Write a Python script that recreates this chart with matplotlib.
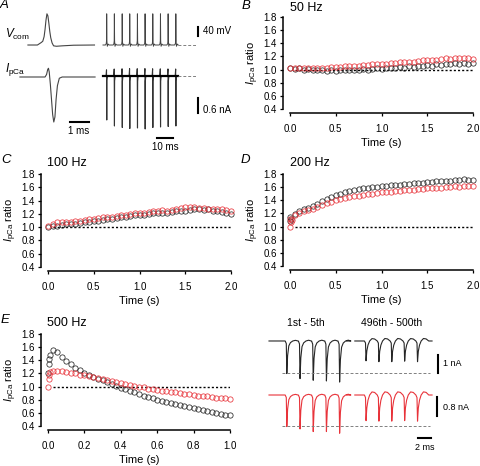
import numpy as np
import matplotlib
matplotlib.use("Agg")
import matplotlib.pyplot as plt

plt.rcParams["font.family"] = ["Liberation Sans", "DejaVu Sans"]
plt.rcParams["mathtext.fontset"] = "custom"
plt.rcParams["mathtext.rm"] = "Liberation Sans"
plt.rcParams["mathtext.it"] = "Liberation Sans:italic"

W, H = 480, 466

BLACK = "#262626"
RED = "#e8333a"

# ---- panel A: single AP command and evoked presynaptic Ca current ----
ap_t = [0, 0.5, 0.6, 0.7, 0.78, 0.85, 0.9, 0.95, 1.0, 1.05, 1.1, 1.15, 1.2, 1.27, 1.35, 1.5, 1.8, 2.4, 3.5]
ap_v = [-80, -80, -74, -68, -62, -40, -5, 40, 70, 60, 25, -15, -45, -70, -84, -86, -84, -81, -80]
ica_t = [-0.42, 0.9, 0.98, 1.04, 1.08, 1.12, 1.18, 1.24, 1.3, 1.36, 1.42, 1.48, 1.55, 1.65, 1.8, 3.53]
ica_i = [0, 0, 0.1, 0.3, 0.35, 0.2, -0.3, -0.9, -1.5, -1.8, -1.6, -0.9, -0.35, -0.05, 0, 0]

# train of APs (200 Hz) and currents
train_spike_t = [2.3, 7.1, 12.0, 16.7, 21.5, 26.3, 31.1, 35.9, 40.7, 45.5]
train_ap_amp = [150] * 10
train_ica_amp = [-1.76, -2.0, -2.06, -2.1, -2.08, -2.12, -2.06, -2.04, -2.02, -2.0]
ap_shape_dt = [-0.8, -0.3, -0.1, 0.0, 0.15, 0.4, 0.9, 1.5]
ap_shape_frac = [0, 0.04, 0.13, 1.0, 0.13, -0.04, 0.03, 0]
ica_shape_dt = [-0.4, -0.1, 0.05, 0.15, 0.4, 0.8]
ica_shape_frac = [0, -0.14, 1.0, 0.1, 0.02, 0]

# ---- ratio time courses ----
t_2s = np.linspace(0, 2, 41)

b_black = [1.03, 1.01, 1.02, 1.00, 1.01, 0.99, 0.99, 1.00, 0.98, 0.99, 0.98, 0.99, 0.99, 1.00, 0.99, 1.00,
           1.01, 1.00, 1.01, 1.02, 1.01, 1.02, 1.03, 1.02, 1.04, 1.03, 1.05, 1.04, 1.06, 1.05, 1.07, 1.06,
           1.08, 1.07, 1.09, 1.08, 1.10, 1.09, 1.10, 1.09, 1.10]
b_red = [1.03, 1.03, 1.02, 1.03, 1.02, 1.02, 1.03, 1.02, 1.03, 1.04, 1.04, 1.04, 1.05, 1.05, 1.06, 1.06,
         1.07, 1.07, 1.08, 1.08, 1.09, 1.09, 1.10, 1.10, 1.11, 1.11, 1.12, 1.12, 1.13, 1.14, 1.14, 1.15,
         1.15, 1.16, 1.17, 1.16, 1.17, 1.18, 1.17, 1.17, 1.16]

c_black = [1.00, 1.01, 1.02, 1.03, 1.04, 1.04, 1.05, 1.06, 1.07, 1.08, 1.09, 1.10, 1.11, 1.12, 1.13, 1.14,
           1.15, 1.16, 1.17, 1.18, 1.19, 1.19, 1.20, 1.21, 1.21, 1.22, 1.21, 1.23, 1.24, 1.25, 1.25, 1.26,
           1.27, 1.27, 1.26, 1.27, 1.25, 1.25, 1.23, 1.22, 1.20]
c_red = [1.02, 1.05, 1.07, 1.07, 1.08, 1.08, 1.09, 1.10, 1.11, 1.12, 1.13, 1.14, 1.15, 1.15, 1.16, 1.17,
         1.18, 1.19, 1.20, 1.21, 1.22, 1.22, 1.23, 1.24, 1.25, 1.26, 1.25, 1.26, 1.28, 1.29, 1.30, 1.30,
         1.30, 1.29, 1.29, 1.28, 1.28, 1.27, 1.27, 1.26, 1.25]

d_black = [1.14, 1.19, 1.23, 1.26, 1.29, 1.32, 1.35, 1.39, 1.42, 1.45, 1.48, 1.50, 1.52, 1.54, 1.55, 1.57,
           1.58, 1.59, 1.60, 1.60, 1.61, 1.62, 1.63, 1.63, 1.64, 1.65, 1.65, 1.66, 1.67, 1.67, 1.68, 1.68,
           1.69, 1.69, 1.70, 1.70, 1.71, 1.71, 1.72, 1.71, 1.71]
d_red = [1.12, 1.17, 1.21, 1.23, 1.25, 1.27, 1.30, 1.33, 1.36, 1.38, 1.40, 1.42, 1.43, 1.45, 1.46, 1.47,
         1.48, 1.49, 1.50, 1.51, 1.52, 1.52, 1.53, 1.54, 1.54, 1.55, 1.55, 1.56, 1.57, 1.57, 1.58, 1.58,
         1.59, 1.59, 1.60, 1.60, 1.61, 1.60, 1.61, 1.61, 1.61]
d_onset_t_red = [0.0, 0.01, 0.02]
d_onset_red = [1.00, 1.07, 1.10]
d_onset_t_black = [0.005, 0.015]
d_onset_black = [1.08, 1.12]

t_1s = np.linspace(0.025, 1.0, 40)
e_onset_t = [0.0, 0.004, 0.008, 0.012]
e_onset_black = [1.20, 1.35, 1.42, 1.48]
e_onset_red = [1.00, 1.12, 1.18, 1.22]
e_black = [1.56, 1.52, 1.45, 1.39, 1.34, 1.29, 1.25, 1.20, 1.17, 1.15, 1.12, 1.10, 1.07, 1.04, 1.01, 0.98,
           0.96, 0.93, 0.91, 0.88, 0.86, 0.84, 0.82, 0.80, 0.78, 0.77, 0.75, 0.73, 0.72, 0.70, 0.69, 0.67,
           0.66, 0.64, 0.63, 0.61, 0.60, 0.58, 0.57, 0.56]
e_red = [1.24, 1.24, 1.23, 1.22, 1.21, 1.20, 1.18, 1.17, 1.16, 1.14, 1.13, 1.11, 1.10, 1.08, 1.07, 1.05,
         1.04, 1.03, 1.01, 1.00, 0.99, 0.97, 0.96, 0.95, 0.94, 0.93, 0.92, 0.91, 0.90, 0.89, 0.88, 0.87,
         0.86, 0.86, 0.85, 0.84, 0.83, 0.82, 0.82, 0.81]

# ---- panel E insets: 1st-5th and 496th-500th currents at 500 Hz ----
early_spike_t = [2.7, 4.7, 6.7, 8.7, 10.7]
late_spike_t = [14.7, 16.65, 18.6, 20.55, 22.5]
black_early_amp = [-1.81, -2.09, -2.18, -2.22, -2.28]
black_late_amp = [-1.10, -1.15, -1.15, -1.12, -1.15]
red_early_amp = [-1.33, -1.43, -1.54, -1.54, -1.61]
red_late_amp = [-1.08, -1.10, -1.10, -1.08, -1.10]
epsc_dt = [-0.25, -0.08, 0.0, 0.12, 0.3, 0.55, 0.9, 1.3, 1.7]
early_frac = [0, 0.08, 1.0, 0.45, 0.15, 0.05, 0.0, -0.02, 0.0]
late_frac = [0, 0.1, 1.0, 0.5, 0.2, 0.0, -0.12, -0.1, 0.0]


def fx(px):
    return px / W


def fy(py):
    return 1 - py / H


def px_axes(fig, x0, y0, x1, y1):
    return fig.add_axes([x0 / W, 1 - y1 / H, (x1 - x0) / W, (y1 - y0) / H])


def build_train(start, end, spike_t, amps, shape_dt, shape_frac, base=0.0):
    t = [start]
    v = [base]
    for ts, a in zip(spike_t, amps):
        for dt, f in zip(shape_dt, shape_frac):
            t.append(ts + dt)
            v.append(base + f * a)
    t.append(end)
    v.append(base)
    return t, v


def trace_axes(fig, rect, xlim, ylim):
    ax = px_axes(fig, *rect)
    ax.set_xlim(*xlim)
    ax.set_ylim(*ylim)
    ax.axis("off")
    return ax


def ratio_axes(fig, rect, xmax, xticks, title, title_xy):
    ax = px_axes(fig, *rect)
    ax.set_xlim(0, xmax)
    ax.set_ylim(0.4, 1.8)
    ax.set_yticks(np.arange(0.4, 1.81, 0.2))
    ax.set_yticklabels([f"{v:.1f}" for v in np.arange(0.4, 1.81, 0.2)])
    ax.set_xticks(xticks)
    ax.set_xticklabels([f"{v:.1f}" for v in xticks])
    for side in ["top", "right"]:
        ax.spines[side].set_visible(False)
    ax.spines["left"].set_position(("outward", 5))
    ax.spines["bottom"].set_position(("outward", 3))
    ax.spines["left"].set_linewidth(1.1)
    ax.spines["bottom"].set_linewidth(1.1)
    ax.tick_params(length=2.5, width=0.9, labelsize=7, pad=2)
    ax.tick_params(axis="x", pad=5)
    ax.set_xlabel("Time (s)", fontsize=8, labelpad=3)
    ax.set_ylabel(r"$\mathit{I}_{\mathrm{pCa}}$ ratio", fontsize=8, labelpad=2)
    ax.plot([0.025 * xmax, xmax], [1.0, 1.0], color="black", lw=1.0,
            linestyle=(0, (1.5, 1.5)), zorder=1)
    fig.text(fx(title_xy[0]), fy(title_xy[1]), title, fontsize=9, va="center", ha="left")
    return ax


def scatter(ax, t, v, color):
    ax.plot(t, v, "o", mfc="none", mec=color, ms=3.8, mew=0.55, clip_on=False, zorder=3)


fig = plt.figure(figsize=(W / 100, H / 100), dpi=100)

# ---------------- panel A ----------------
ax_v1 = trace_axes(fig, (15, 8, 100, 50), (-0.68, 3.79), (-104, 98))
ax_v1.plot(ap_t, ap_v, color="#444444", lw=0.8)
ax_i1 = trace_axes(fig, (15, 60, 100, 130), (-0.68, 3.79), (-2.12, 0.68))
ax_i1.plot(ica_t, ica_i, color="#444444", lw=0.8)
ax_i1.plot([2.21, 3.21], [-1.8, -1.8], color="black", lw=1.5)

t_v, v_v = build_train(0, 47, train_spike_t, train_ap_amp, ap_shape_dt, ap_shape_frac, base=-80)
ax_v2 = trace_axes(fig, (100, 8, 240, 50), (-1.875, 85.6), (-104, 98))
ax_v2.plot(t_v, v_v, color="#444444", lw=0.7)
ax_v2.plot([47, 58], [-80, -80], color="grey", lw=0.7, linestyle=(0, (3, 2)))
ax_v2.plot([59.4, 59.4], [-35, 5], color="black", lw=1.5)

t_i, v_i = build_train(0, 47, train_spike_t, train_ica_amp, ica_shape_dt, ica_shape_frac)
ax_i2 = trace_axes(fig, (100, 60, 240, 145), (-1.875, 85.6), (-2.76, 0.64))
ax_i2.plot(t_i, v_i, color="#333333", lw=0.8)
ax_i2.plot([0, 47], [0, 0], color="black", lw=1.6)
ax_i2.plot([47, 58], [0, 0], color="grey", lw=0.7, linestyle=(0, (3, 2)))
ax_i2.plot([59.4, 59.4], [-0.9, -1.5], color="black", lw=1.5)
ax_i2.plot([33.75, 43.75], [-2.48, -2.48], color="black", lw=1.5)

fig.text(fx(5), fy(34), r"$\mathit{V}_{\mathrm{com}}$", fontsize=8.5, va="center")
fig.text(fx(5), fy(70), r"$\mathit{I}_{\mathrm{pCa}}$", fontsize=8.5, va="center")
fig.text(fx(203), fy(31), "40 mV", fontsize=7, va="center")
fig.text(fx(203), fy(110), "0.6 nA", fontsize=7, va="center")
fig.text(fx(79), fy(131), "1 ms", fontsize=7, va="center", ha="center")
fig.text(fx(165), fy(147), "10 ms", fontsize=7, va="center", ha="center")

# ---------------- panels B-E ----------------
xt_2s = [0.0, 0.5, 1.0, 1.5, 2.0]
ax_b = ratio_axes(fig, (290, 17, 473, 109), 2.0, xt_2s, "50 Hz", (290, 8))
scatter(ax_b, t_2s, b_black, BLACK)
scatter(ax_b, t_2s, b_red, RED)

ax_c = ratio_axes(fig, (48, 174, 231, 267), 2.0, xt_2s, "100 Hz", (47, 163))
scatter(ax_c, t_2s, c_black, BLACK)
scatter(ax_c, t_2s, c_red, RED)

ax_d = ratio_axes(fig, (290, 174, 473, 266), 2.0, xt_2s, "200 Hz", (290, 163))
scatter(ax_d, t_2s, d_black, BLACK)
scatter(ax_d, d_onset_t_black, d_onset_black, BLACK)
scatter(ax_d, t_2s, d_red, RED)
scatter(ax_d, d_onset_t_red, d_onset_red, RED)

ax_e = ratio_axes(fig, (48, 334, 230, 426), 1.0, [0.0, 0.2, 0.4, 0.6, 0.8, 1.0], "500 Hz", (47, 323))
scatter(ax_e, e_onset_t, e_onset_black, BLACK)
scatter(ax_e, t_1s, e_black, BLACK)
scatter(ax_e, e_onset_t, e_onset_red, RED)
scatter(ax_e, t_1s, e_red, RED)

# ---------------- panel E insets ----------------
ax_eb = trace_axes(fig, (262, 330, 450, 388), (-1.06, 27.42), (-2.61, 0.61))
t1, v1 = build_train(0, 11.8, early_spike_t, black_early_amp, epsc_dt, early_frac)
t2, v2 = build_train(13.0, 24.7, late_spike_t, black_late_amp, epsc_dt, late_frac)
ax_eb.plot(t1, v1, color=BLACK, lw=0.8)
ax_eb.plot(t2, v2, color=BLACK, lw=0.8)
ax_eb.plot([2.0, 24.4], [-1.78, -1.78], color="grey", lw=0.7, linestyle=(0, (3, 2)))
ax_eb.plot([25.6, 25.6], [-0.78, -1.78], color="black", lw=1.5)

ax_er = trace_axes(fig, (262, 386, 450, 445), (-1.06, 27.42), (-2.105, 0.379))
t3, v3 = build_train(0, 11.8, early_spike_t, red_early_amp, epsc_dt, early_frac)
t4, v4 = build_train(13.0, 24.7, late_spike_t, red_late_amp, epsc_dt, late_frac)
ax_er.plot(t3, v3, color=RED, lw=0.8)
ax_er.plot(t4, v4, color=RED, lw=0.8)
ax_er.plot([2.0, 24.4], [-1.31, -1.31], color="grey", lw=0.7, linestyle=(0, (3, 2)))
ax_er.plot([25.45, 25.45], [-0.08, -0.88], color="black", lw=1.5)
ax_er.plot([22.6, 24.6], [-1.81, -1.81], color="black", lw=1.5, clip_on=False)

fig.text(fx(306), fy(323), "1st - 5th", fontsize=7.5, va="center", ha="center")
fig.text(fx(392), fy(323), "496th - 500th", fontsize=7.5, va="center", ha="center")
fig.text(fx(443), fy(364), "1 nA", fontsize=6.5, va="center")
fig.text(fx(443), fy(407), "0.8 nA", fontsize=6.5, va="center")
fig.text(fx(425), fy(447), "2 ms", fontsize=6.5, va="center", ha="center")

# panel letters
for letter, x, y in [("A", 0, 5), ("B", 242, 6), ("C", 1, 160), ("D", 241, 160), ("E", 1, 320)]:
    fig.text(fx(x), fy(y), letter, fontsize=9.5, style="italic", va="center", ha="left")

fig.savefig("out.png", dpi=100)
